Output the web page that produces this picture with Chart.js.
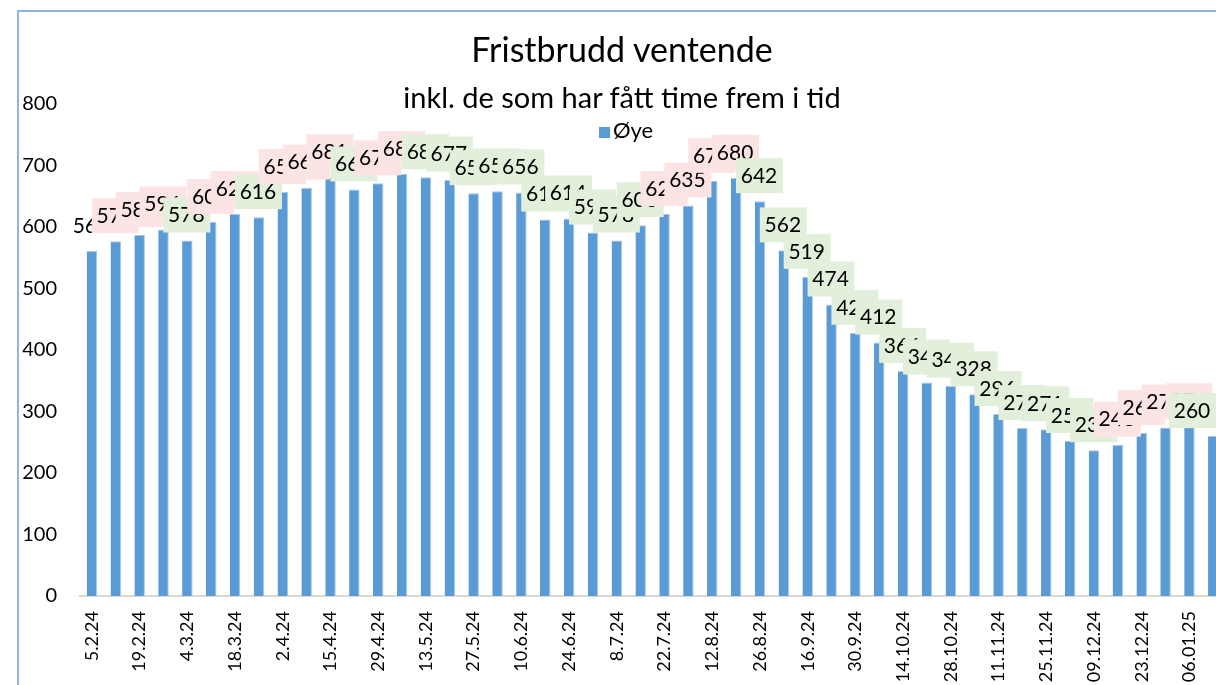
<!DOCTYPE html>
<html lang="no">
<head>
<meta charset="utf-8">
<title>Fristbrudd ventende</title>
<script src="https://cdn.jsdelivr.net/npm/chart.js@4.4.1/dist/chart.umd.min.js"></script>
<style>
    html, body { margin: 0; padding: 0; background: #fff; overflow: hidden; }
    #wrap { position: relative; width: 1216px; height: 685px; overflow: hidden; font-family: Lato, "Open Sans", sans-serif; }
    #ramme { position: absolute; left: 17px; top: 10px; width: 1400px; height: 900px; border: 2px solid #8fb4e3; box-sizing: border-box; }
    #boks { position: absolute; left: 0; top: 0; width: 1250px; height: 685px; }
    .tittel { position: absolute; left: 0; width: 1244px; text-align: center; color: #000; white-space: nowrap; }
    #t1 { top: 28px; font-size: 34px; }
    #t2 { top: 79px; font-size: 29px; }
    #legende { position: absolute; left: 599px; top: 116px; font-size: 22px; color: #000; }
    #legende span { display: inline-block; width: 11px; height: 11px; background: #5b9bd5; margin-right: 3px; }
</style>
</head>
<body>
<div id="wrap">
    <div id="ramme"></div>
    <div id="boks"><canvas id="fristbruddChart"></canvas></div>
    <div class="tittel" id="t1">Fristbrudd ventende</div>
    <div class="tittel" id="t2">inkl. de som har fått time frem i tid</div>
    <div id="legende"><span></span>Øye</div>
</div>
<script>
    // Uker (bare annenhver vises på aksen)
    const uker = ['5.2.24', '12.2.24', '19.2.24', '26.2.24', '4.3.24', '11.3.24', '18.3.24', '25.3.24',
        '2.4.24', '8.4.24', '15.4.24', '22.4.24', '29.4.24', '6.5.24', '13.5.24', '20.5.24',
        '27.5.24', '3.6.24', '10.6.24', '17.6.24', '24.6.24', '1.7.24', '8.7.24', '15.7.24',
        '22.7.24', '5.8.24', '12.8.24', '19.8.24', '26.8.24', '9.9.24', '16.9.24', '23.9.24',
        '30.9.24', '7.10.24', '14.10.24', '21.10.24', '28.10.24', '4.11.24', '11.11.24', '18.11.24',
        '25.11.24', '02.12.24', '09.12.24', '16.12.24', '23.12.24', '30.12.24', '06.01.25', '13.01.25'];

    // Antall ventende med fristbrudd, øye
    const oye = [561, 577, 587, 596, 578, 608, 621, 616, 657, 664, 681, 661, 671, 686, 681, 677,
        655, 658, 656, 612, 614, 591, 578, 603, 621, 635, 675, 680, 642, 562, 519, 474,
        428, 412, 366, 347, 342, 328, 296, 273, 271, 252, 237, 246, 265, 274, 276, 260];

    // Farge på etiketten: 1 = opp (rosa), -1 = ned (grønn), 0 = ingen
    const trend = [0, 1, 1, 1, -1, 1, 1, -1, 1, 1, 1, -1, 1, 1, -1, -1,
        -1, -1, -1, -1, -1, -1, -1, -1, 1, 1, 1, 1, -1, -1, -1, -1,
        -1, -1, -1, -1, -1, -1, -1, -1, -1, -1, -1, 1, 1, 1, 1, -1];

    const yTicks = [0, 100, 200, 300, 400, 500, 600, 700, 800];

    const synligBredde = 1216; // etikettene holdes innenfor det synlige feltet

    // Etiketter med farget boks over hver søyle
    const etiketter = {
        id: 'etiketter',
        afterDatasetsDraw(chart) {
            const ctx = chart.ctx;
            const meta = chart.getDatasetMeta(0);
            ctx.save();
            ctx.font = '21px Lato';
            ctx.textAlign = 'center';
            ctx.textBaseline = 'middle';
            meta.data.forEach((bar, i) => {
                const cx = Math.min(bar.x - 1, synligBredde - 24);
                const cy = bar.y - 26;
                if (trend[i] !== 0) {
                    ctx.fillStyle = trend[i] > 0 ? '#fde4e4' : '#e2efda';
                    ctx.fillRect(cx - 23, cy - 17, 47, 35);
                }
                ctx.fillStyle = '#000';
                ctx.fillText(oye[i], cx, cy + 1);
            });
            ctx.restore();
        }
    };

    const fristbruddChart = new Chart(document.getElementById('fristbruddChart'), {
        type: 'bar',
        data: {
            labels: uker,
            datasets: [{
                label: 'Øye',
                data: oye,
                backgroundColor: '#5b9bd5',
                borderColor: '#a7c7ea',
                borderWidth: { right: 1, top: 1 },
                barPercentage: 0.44,
                categoryPercentage: 1
            }]
        },
        options: {
            responsive: true,
            maintainAspectRatio: false,
            animation: false,
            layout: { padding: { top: 104, right: 10, left: 0, bottom: 0 } },
            plugins: {
                legend: { display: false },
                title: { display: false },
                tooltip: { enabled: false }
            },
            scales: {
                x: {
                    grid: { display: false, drawTicks: false },
                    border: { display: true, color: '#d9d9d9', width: 2 },
                    ticks: {
                        autoSkip: false,
                        minRotation: 90,
                        maxRotation: 90,
                        padding: 15,
                        color: '#000',
                        font: { family: 'Lato', size: 18 },
                        callback: (v, i) => (i % 2 === 0 ? uker[i] : '')
                    },
                    afterFit: (s) => { s.height = 89; }
                },
                y: {
                    min: 0,
                    max: 800,
                    afterBuildTicks: (s) => { s.ticks = yTicks.map(v => ({ value: v })); },
                    grid: { display: false, drawTicks: false },
                    border: { display: false },
                    ticks: {
                        padding: 23,
                        color: '#000',
                        font: { family: 'Lato', size: 20 }
                    },
                    afterFit: (s) => { s.width = 80; }
                }
            }
        },
        plugins: [etiketter]
    });
</script>
</body>
</html>
